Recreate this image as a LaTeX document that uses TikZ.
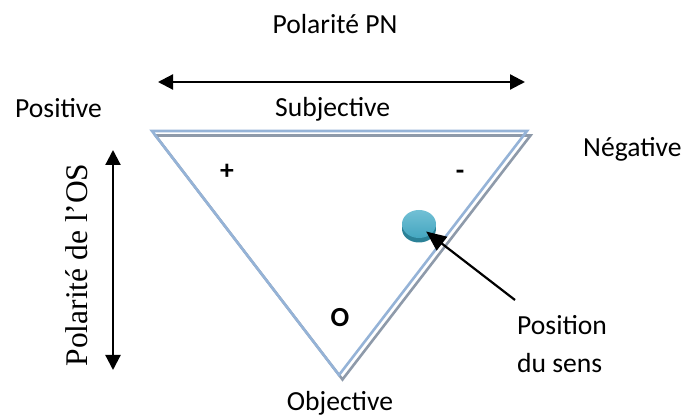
\documentclass[tikz,border=0pt]{standalone}
\usepackage{fontspec}
\setmainfont{Carlito}
\newfontfamily\serifface{Liberation Serif}
\usetikzlibrary{arrows.meta,shapes.geometric}
\definecolor{triblue}{HTML}{95B3D7}
\definecolor{trishadow}{HTML}{8E9AAA}
\definecolor{tealtop}{HTML}{72C0D5}
\definecolor{tealmid}{HTML}{44A6C0}
\definecolor{tealdark}{HTML}{2B8197}
\begin{document}
\begin{tikzpicture}[x=1pt,y=-1pt,
  lbl/.style={font=\fontsize{27.6}{33}\selectfont, inner sep=0pt},
  sign/.style={font=\fontsize{27.6}{33}\selectfont\bfseries, inner sep=0pt},
  axis/.style={line width=2.2pt, {Triangle[length=15pt,width=15pt]}-{Triangle[length=15pt,width=15pt]}},
  pointer/.style={line width=2.2pt, -{Triangle[length=20pt,width=17pt]}},
  edge/.style={line width=2.6pt, line join=miter}]
\useasboundingbox (0,0) rectangle (686,419);

% triangle: grey shadow outline, then the blue outline
\coordinate (tl) at (152,131);
\coordinate (tr) at (527,131);
\coordinate (bt) at (339,375);
\draw[edge, trishadow] ([shift={(3.5,4.5)}]tl) -- ([shift={(3.5,4.5)}]tr) -- ([shift={(3.5,4.5)}]bt) -- cycle;
\draw[edge, triblue] (tl) -- (tr) -- (bt) -- cycle;

% axes
\coordinate (hl) at (158,82);
\coordinate (hr) at (525,82);
\draw[axis] (hl) -- (hr);
\coordinate (vt) at (113,150);
\coordinate (vb) at (113,370);
\draw[axis] (vt) -- (vb);

% labels
\node[lbl, anchor=base] (pn) at (335,34) {Polarité PN};
\node[lbl, anchor=base west] (pos) at (15,118) {Positive};
\node[lbl, anchor=base west] (subj) at (275,117) {Subjective};
\node[lbl, anchor=base west] (neg) at (583,157) {Négative};
\node[lbl, anchor=base] (obj) at (340,411) {Objective};
\node[inner sep=0pt, anchor=base, rotate=90, font=\serifface\fontsize{31.5}{36}\selectfont] (os) at (87,265) {Polarité de l’OS};
\node[sign] (plus) at (227,172) {+};
\node[sign] (minus) at (460,175) {-};
\node[sign] (o) at (340,318) {O};
\node[lbl, anchor=base west] (posn) at (517,335) {Position};
\node[lbl, anchor=base west] (sens) at (517,373) {du sens};

% the "sens" marker: darker rim under a shaded top face
\fill[tealdark] (419,229) ellipse [x radius=17, y radius=13.5];
\shade[top color=tealtop, bottom color=tealmid] (419,224) ellipse [x radius=17, y radius=14];
\node[ellipse, minimum width=34pt, minimum height=32pt, inner sep=0pt] (blob) at (419,226) {};

% pointer from the caption to the marker
\coordinate (ptail) at (515,300);
\draw[pointer, shorten >=9pt] (ptail) -- (blob.center);
\end{tikzpicture}
\end{document}
